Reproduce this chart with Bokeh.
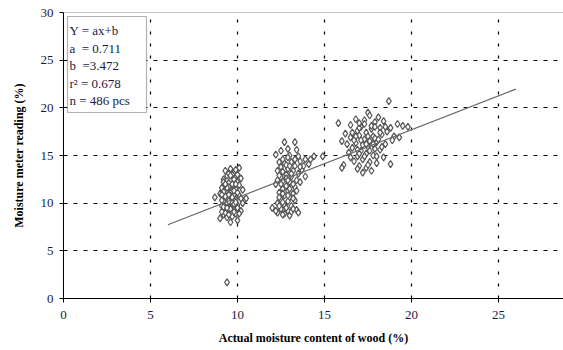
from bokeh.plotting import figure
from bokeh.models import ColumnDataSource, Span, BoxAnnotation, Label, FixedTicker, Range1d
from bokeh.embed import file_html
from bokeh.resources import INLINE

# --- data ---
c1 = [(9.3,13.4),(9.6,13.6),(10.1,13.7),(9.8,13.2),(9.4,12.9),(9.9,12.8),(10.2,12.6),(9.2,12.5),
      (9.6,12.4),(9.5,12.1),(10.0,12.2),(9.3,11.9),(9.7,11.8),(9.1,11.6),(9.9,11.5),(10.3,11.4),
      (9.4,11.3),(9.6,11.1),(9.0,11.0),(9.8,10.9),(10.1,10.8),(9.3,10.7),(9.5,10.5),(8.7,10.6),
      (9.9,10.4),(10.4,10.3),(9.2,10.2),(9.7,10.1),(9.4,9.9),(10.0,9.8),(9.1,9.7),(9.6,9.6),
      (9.8,9.4),(9.3,9.3),(10.2,9.2),(9.5,9.1),(9.9,8.9),(9.2,8.8),(9.7,8.6),(9.0,8.4),(9.4,8.5),
      (10.0,8.2),(9.6,8.0),(9.5,11.7),(9.8,12.5),(9.2,11.2),(10.1,11.9),(9.6,10.8),(9.4,10.0),
      (9.8,9.9),(10.3,10.0),(9.3,9.0),(10.5,10.5),(9.7,13.0),(9.9,13.5),(9.4,1.7),
      (9.5,13.1),(9.2,12.2),(9.7,12.0),(9.9,12.0),(9.4,11.6),(9.8,11.3),(10.0,11.1),(9.1,10.9),
      (9.5,10.9),(9.7,10.6),(10.2,10.5),(9.1,10.3),(9.5,10.2),(9.9,10.1),(9.2,9.6),(9.6,9.4),
      (10.0,9.5),(9.4,9.5),(9.8,9.1),(9.1,9.1),(9.5,8.8),(10.1,8.9),(9.3,12.0),(9.6,12.9),(10.0,13.0)]
c2 = [(12.7,16.4),(13.3,16.4),(12.9,15.7),(13.4,15.6),(12.2,15.1),(14.4,14.9),(14.9,14.9),(13.9,14.6),
      (13.6,14.4),(13.1,14.3),(12.7,14.2),(14.1,14.1),(12.5,13.8),(13.3,13.9),(12.9,13.6),(13.7,13.5),
      (12.3,13.4),(13.5,13.1),(12.8,13.0),(13.1,12.8),(12.5,12.7),(13.9,12.8),(12.6,12.3),(13.0,12.2),
      (13.4,12.4),(12.2,12.0),(12.8,11.8),(13.3,11.7),(12.6,11.5),(12.9,11.3),(12.4,11.1),(13.2,11.0),
      (12.7,10.8),(13.0,10.6),(12.5,10.4),(12.9,10.2),(13.3,10.3),(12.3,10.0),(12.7,9.8),(13.1,9.7),
      (12.0,9.5),(12.5,9.4),(12.9,9.2),(13.4,9.3),(12.3,9.0),(12.7,8.9),(13.0,8.7),(13.5,9.0),
      (12.8,12.6),(13.2,13.4),(12.6,14.6),(13.5,14.9),(12.4,12.9),(13.0,11.5),(12.6,10.1),(13.1,9.1),
      (12.2,9.2),(12.8,14.0),(13.8,13.9),(13.6,12.2),
      (12.5,15.5),(13.0,15.0),(12.9,14.8),(13.3,14.6),(12.4,14.3),(13.0,13.9),(12.6,13.3),(13.1,13.1),
      (12.9,12.4),(12.3,12.4),(13.2,12.0),(12.5,12.0),(12.6,11.0),(13.4,11.3),(12.9,10.8),(12.4,10.6),
      (13.2,10.5),(12.8,9.5),(12.4,9.7),(13.2,9.4),(12.6,8.8),(13.6,13.8),(14.2,14.6)]
c3 = [(18.7,20.7),(17.5,19.5),(17.6,19.2),(18.1,19.0),(16.8,18.8),(17.3,18.7),(17.9,18.5),(18.4,18.6),
      (15.8,18.4),(16.5,18.2),(19.2,18.3),(19.5,18.1),(19.8,18.0),(17.1,18.0),(17.7,17.8),(18.2,17.9),
      (16.9,17.6),(17.4,17.4),(18.6,17.5),(16.2,17.3),(17.0,17.1),(17.8,17.0),(18.3,17.2),(19.0,17.0),
      (16.5,16.9),(17.3,16.7),(17.6,16.5),(18.0,16.4),(16.8,16.3),(17.2,16.1),(18.5,16.2),(16.0,16.5),
      (17.5,15.9),(17.9,15.7),(16.6,15.8),(17.1,15.5),(18.2,15.6),(16.4,15.3),(17.4,15.2),(17.8,15.0),
      (16.9,14.9),(18.4,14.8),(17.2,14.6),(16.7,14.4),(17.6,14.3),(18.0,14.2),(16.1,14.0),(17.0,13.9),
      (17.4,13.7),(16.0,13.7),(17.2,13.2),(17.7,13.4),(18.8,14.1),(16.3,16.2),(17.9,16.8),(18.9,16.6),
      (17.0,17.9),(17.7,18.1),(16.6,17.4),(18.5,18.0),
      (17.3,18.3),(17.9,18.0),(16.8,17.0),(17.5,17.0),(18.1,16.7),(17.1,16.6),(17.4,16.2),(16.7,16.6),
      (17.8,16.2),(18.3,15.9),(16.9,15.6),(17.6,15.5),(17.0,15.2),(18.0,14.9),(17.3,14.9),(16.5,14.8),
      (17.5,14.0),(16.9,13.6),(18.2,17.4),(17.0,18.4),(18.8,17.9),(19.3,16.9)]
points = c1 + c2 + c3
xs = [p[0] for p in points]
ys = [p[1] for p in points]

slope_a = 0.711
intercept_b = 3.472
fit_x = [6, 26]
fit_y = [slope_a * v + intercept_b for v in fit_x]

tick_vals = [0, 5, 10, 15, 20, 25, 30]
stats_lines = ["Y = ax+b", "a\u00a0\u00a0= 0.711", "b\u00a0\u00a0=3.472", "r\u00b2 = 0.678", "n = 486 pcs"]

FONT = "Liberation Serif"

p = figure(width=563, height=350, output_backend="svg", toolbar_location=None,
           x_range=Range1d(0, 28.74), y_range=Range1d(0, 30),
           min_border_left=63, min_border_right=0, min_border_top=12, min_border_bottom=52)
p.outline_line_color = None
p.background_fill_color = "white"

p.xaxis.ticker = FixedTicker(ticks=[0, 5, 10, 15, 20, 25])
p.yaxis.ticker = FixedTicker(ticks=tick_vals)
for ax in (p.xaxis, p.yaxis):
    ax.axis_line_color = "black"
    ax.axis_line_width = 1
    ax.major_tick_line_color = "black"
    ax.major_tick_out = 4
    ax.major_tick_in = 0
    ax.minor_tick_line_color = None
    ax.major_label_text_font = FONT
    ax.major_label_text_font_size = "13px"
    ax.major_label_text_color = "#1a1a40"
    ax.axis_label_text_font = FONT
    ax.axis_label_text_font_size = "12px"
    ax.axis_label_text_font_style = "bold"
    ax.axis_label_text_color = "black"
p.xaxis.axis_label = "Actual moisture content of wood (%)"
p.yaxis.axis_label = "Moisture meter reading (%)"
p.xaxis.major_label_standoff = 8
p.xaxis.axis_label_standoff = 9
p.yaxis.major_label_standoff = 6
p.yaxis.axis_label_standoff = 12

p.xgrid.ticker = FixedTicker(ticks=[5, 10, 15, 20, 25])
p.ygrid.ticker = FixedTicker(ticks=[5, 10, 15, 20, 25])
for g in (p.xgrid, p.ygrid):
    g.grid_line_color = "black"
    g.grid_line_width = 1.2
p.ygrid.grid_line_dash = "4 6"
p.xgrid.grid_line_dash = "3 9"

p.add_layout(Span(location=30, dimension="width", line_color="#888888", line_width=1))

src = ColumnDataSource(dict(x=xs, y=ys))
p.scatter("x", "y", source=src, marker="diamond", size=7, fill_color="white",
          line_color="#555555", line_width=1.2)
p.line(fit_x, fit_y, line_color="#666666", line_width=1.2)

# stats box (screen units are relative to the plot frame, origin bottom-left)
p.add_layout(BoxAnnotation(left=4, right=83, top=282, bottom=186,
                           left_units="screen", right_units="screen",
                           top_units="screen", bottom_units="screen",
                           fill_color="white", fill_alpha=1, line_color="black", line_width=1.2))
for i, t in enumerate(stats_lines):
    p.add_layout(Label(x=6, y=268 - 17.5 * i, x_units="screen", y_units="screen",
                       text=t, text_font=FONT, text_font_size="13px", text_color="#1a1a40",
                       text_baseline="middle"))

open("out.html", "w").write(file_html(p, INLINE))
